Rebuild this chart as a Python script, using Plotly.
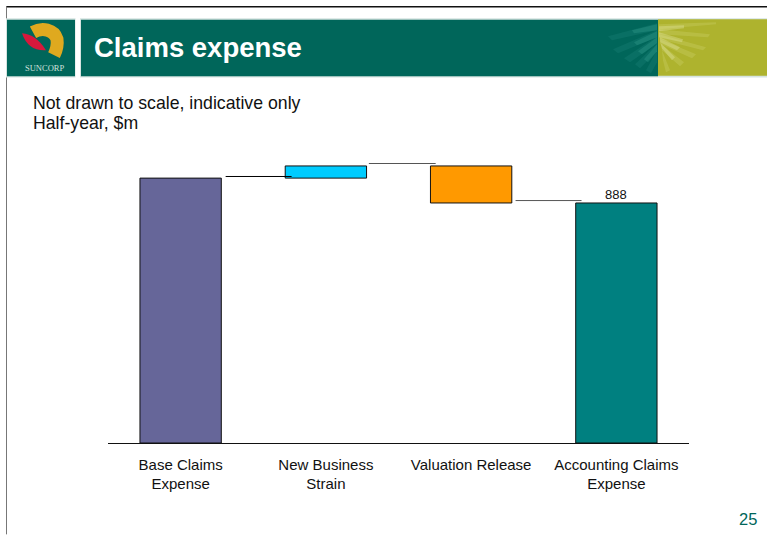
import plotly.graph_objects as go

# Waterfall values, $m
categories = ["Base Claims<br>Expense", "New Business<br>Strain", "Valuation Release", "Accounting Claims<br>Expense"]
bar_tops = [980, 1025, 1025, 888]
bar_bases = [0, 980, 888, 0]
bar_colors = ["#666699", "#00ccff", "#ff9900", "#008080"]
end_value = 888

# Connector segments between the steps
connector_levels = [986, 1034, 897]
connector_starts = [0.31, 1.296, 2.306]
connector_ends = [0.764, 1.756, 2.76]

title_text = "Claims expense"
subtitle_lines = ["Not drawn to scale, indicative only", "Half-year, $m"]
page_number = "25"

WIDTH, HEIGHT = 767, 535
PLOT_L, PLOT_R, PLOT_T, PLOT_B = 108, 689, 150, 443.5
TEAL, OLIVE = "#00665a", "#aeb32e"


def px_x(x):
    return (x - PLOT_L) / (PLOT_R - PLOT_L)


def px_y(y):
    return (PLOT_B - y) / (PLOT_B - PLOT_T)


def rect(x0, y0, x1, y1, color, opacity=1.0):
    return dict(type="rect", xref="paper", yref="paper", x0=px_x(x0), x1=px_x(x1),
                y0=px_y(y0), y1=px_y(y1), fillcolor=color, opacity=opacity,
                line=dict(width=0), layer="below")


def page_line(x0, y0, x1, y1, color, width=1):
    return dict(type="line", xref="paper", yref="paper", x0=px_x(x0), x1=px_x(x1),
                y0=px_y(y0), y1=px_y(y1), line=dict(color=color, width=width), layer="below")


def polygon(points, color, opacity=1.0):
    path = "M " + " L ".join(f"{px_x(x):.5f},{px_y(y):.5f}" for x, y in points) + " Z"
    return dict(type="path", xref="paper", yref="paper", path=path, fillcolor=color,
                opacity=opacity, line=dict(width=0), layer="below")


shapes = [
    # Page edges
    page_line(6, 6.5, 767, 6.5, "#111111", 1.5),
    page_line(6.5, 6, 6.5, 535, "#777777", 1),
    # Header soft edge, bands and panels
    rect(6, 18, 75.5, 77.5, "#d5e3e0"),
    rect(80, 18, 767, 77.5, "#d5e3e0"),
    rect(7, 19.5, 75, 76, TEAL),
    rect(81, 19.5, 658, 76, TEAL),
    rect(658, 19, 767, 75.5, OLIVE),
]

# Sun rays fanning out across the header boundary, long and faint plus short and brighter
teal_rays = [
    [(657, 23), (657, 30), (612, 40), (608, 36)],
    [(657, 30), (657, 37), (618, 53), (613, 49)],
    [(657, 36), (657, 43), (630, 62), (624, 58)],
    [(657, 43), (657, 51), (640, 68), (635, 64)],
    [(657, 50), (657, 62), (651, 73), (646, 70)],
]
short_teal_rays = [
    [(657, 24), (657, 30), (634, 33), (632, 30)],
    [(657, 31), (657, 37), (637, 45), (634, 42)],
    [(657, 37), (657, 43), (642, 54), (638, 51)],
    [(657, 44), (657, 51), (648, 62), (644, 59)],
]
olive_rays = [
    [(659, 24), (659, 29), (716, 24), (716, 22)],
    [(659, 29), (659, 34), (708, 37), (710, 34)],
    [(659, 34), (660, 39), (703, 50), (706, 47)],
    [(660, 39), (661, 44), (692, 58), (696, 54)],
    [(661, 44), (662, 50), (680, 66), (684, 62)],
    [(662, 50), (663, 60), (666, 72), (670, 70)],
]
short_olive_rays = [
    [(659, 26), (659, 31), (684, 28), (684, 25)],
    [(659, 32), (659, 37), (682, 42), (683, 39)],
    [(660, 37), (660, 42), (677, 50), (680, 47)],
    [(660, 42), (662, 48), (672, 60), (675, 57)],
]
shapes += [polygon(p, "#1f8a7c", 0.28) for p in teal_rays]
shapes += [polygon(p, "#3aa596", 0.3) for p in short_teal_rays]
shapes += [polygon(p, "#dfe38f", 0.22) for p in olive_rays]
shapes += [polygon(p, "#e6e9a8", 0.35) for p in short_olive_rays]

# Logo: yellow crescent and red leaf
shapes.append(dict(type="path", xref="paper", yref="paper", layer="below",
                   path=(f"M {px_x(33):.5f},{px_y(32):.5f} "
                         f"C {px_x(42):.5f},{px_y(27):.5f} {px_x(54):.5f},{px_y(29):.5f} {px_x(57):.5f},{px_y(39):.5f} "
                         f"C {px_x(58):.5f},{px_y(46):.5f} {px_x(56):.5f},{px_y(51):.5f} {px_x(54):.5f},{px_y(55):.5f}"),
                   line=dict(color="#dfa91f", width=13), fillcolor="rgba(0,0,0,0)"))
shapes.append(dict(type="path", xref="paper", yref="paper", layer="below",
                   path=(f"M {px_x(22):.5f},{px_y(33):.5f} "
                         f"Q {px_x(36):.5f},{px_y(34):.5f} {px_x(46):.5f},{px_y(50):.5f} "
                         f"Q {px_x(28):.5f},{px_y(51):.5f} {px_x(22):.5f},{px_y(33):.5f} Z"),
                   fillcolor="#d8183c", line=dict(width=0)))

fig = go.Figure()

fig.add_trace(go.Bar(
    x=list(range(len(categories))),
    y=[t - b for t, b in zip(bar_tops, bar_bases)],
    base=bar_bases,
    width=0.56,
    marker=dict(color=bar_colors, line=dict(color="#111111", width=1)),
    hoverinfo="skip",
))

for level, start, end, shade in zip(connector_levels, connector_starts, connector_ends,
                                    ["#000000", "#555555", "#555555"]):
    fig.add_trace(go.Scatter(x=[start, end], y=[level, level], mode="lines",
                             line=dict(color=shade, width=1), hoverinfo="skip"))


def page_text(x, y, text, size, color, anchor="left", weight="normal", family="Liberation Sans"):
    return dict(xref="paper", yref="paper", x=px_x(x), y=px_y(y), text=text, showarrow=False,
                xanchor=anchor, yanchor="middle", align=anchor,
                font=dict(family=family, size=size, color=color, weight=weight))


annotations = [
    page_text(91.5, 47.5, title_text, 27.5, "#ffffff", weight="bold"),
    page_text(31, 102.5, subtitle_lines[0], 17.7, "#111111"),
    page_text(31, 123, subtitle_lines[1], 17.7, "#111111"),
    page_text(759, 520, page_number, 16.5, TEAL, anchor="right"),
    page_text(44, 68, "SUNCORP", 8.5, "#cfe0dc", anchor="center", family="Liberation Serif"),
    # Value label sits just above the closing bar
    dict(x=3, y=end_value, text=str(end_value), showarrow=False, xanchor="center", yanchor="bottom",
         yshift=-1, font=dict(family="Liberation Sans", size=13, color="#111111")),
]

fig.update_layout(
    width=WIDTH, height=HEIGHT,
    margin=dict(l=PLOT_L, r=WIDTH - PLOT_R, t=PLOT_T, b=HEIGHT - PLOT_B, pad=0),
    paper_bgcolor="white", plot_bgcolor="white",
    showlegend=False, shapes=shapes, annotations=annotations,
    xaxis=dict(range=[-0.5, 3.5], tickmode="array", tickvals=list(range(len(categories))),
               ticktext=categories, ticks="outside", ticklen=7.5, tickcolor="rgba(0,0,0,0)",
               showgrid=False, zeroline=False,
               showline=True, linecolor="#111111", linewidth=1,
               tickfont=dict(family="Liberation Sans", size=15, color="#111111"),
               fixedrange=True),
    yaxis=dict(range=[0, 1084], visible=False, showgrid=False, zeroline=False, fixedrange=True),
)

fig.write_html("out.html", config={"displayModeBar": False})
